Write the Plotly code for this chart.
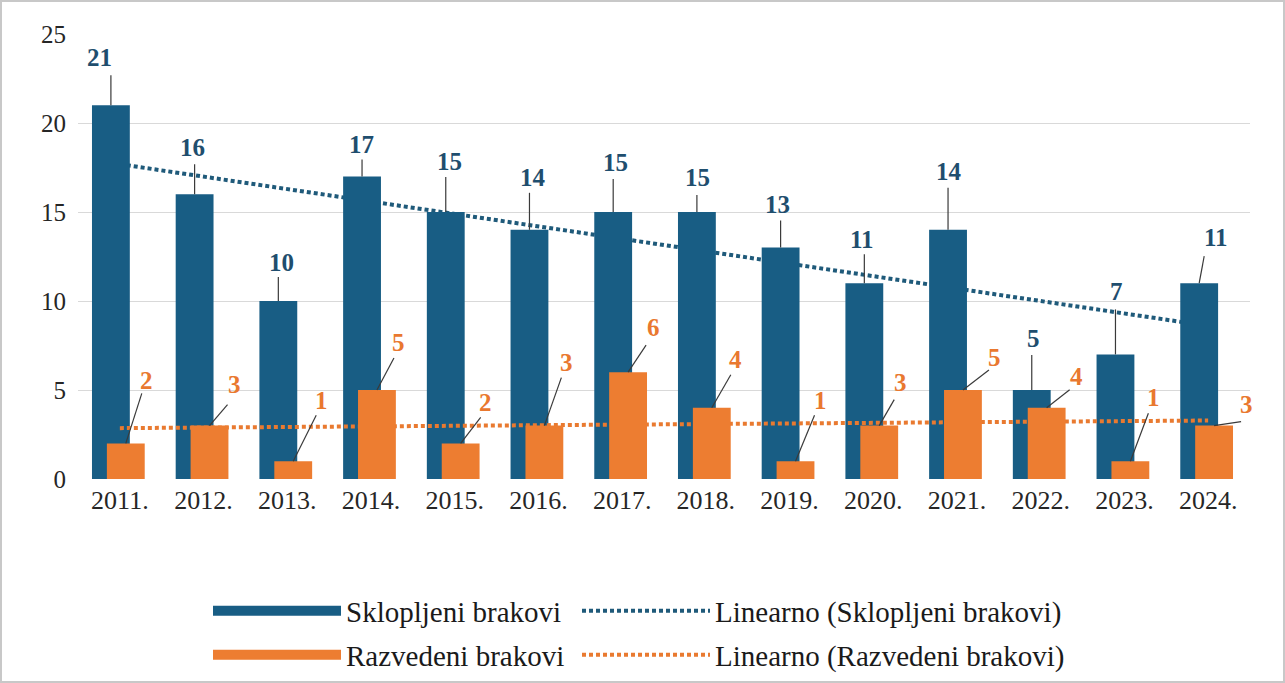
import numpy as np
import plotly.graph_objects as go

# ---------------- data ----------------
years = ['2011.', '2012.', '2013.', '2014.', '2015.', '2016.', '2017.',
         '2018.', '2019.', '2020.', '2021.', '2022.', '2023.', '2024.']
sklopljeni = [21, 16, 10, 17, 15, 14, 15, 15, 13, 11, 14, 5, 7, 11]
razvedeni = [2, 3, 1, 5, 2, 3, 6, 4, 1, 3, 5, 4, 1, 3]
y_ticks = [0, 5, 10, 15, 20, 25]

# ---------------- styling / label placement (pixels) ----------------
BLUE = '#185D84'
ORANGE = '#ED7D31'
BLUE_TREND = '#1F5A7A'
ORANGE_TREND = '#E97A30'
BLUE_TXT = '#1F4E6E'
ORANGE_TXT = '#E9782F'
LEADER = '#3A3A3A'
GRID = '#D9D9D9'
FONT = 'Liberation Serif'

# text centre offset (dx, dy) from bar top, leader end offset (dx, dy); dy positive = down
blue_text_off = [(-11, -48), (-2, -47), (3, -39), (-1, -32), (4, -51), (4, -52), (2, -50),
                 (1, -35), (-3, -43), (-2, -44), (1, -58), (2, -52), (1, -63), (17, -46)]
blue_line_end = [(0, -30), (0, -30), (0, -24), (0, -17), (0, -35), (0, -37), (0, -33),
                 (0, -17), (0, -27), (0, -29), (0, -42), (0, -35), (0, -45), (5, -27)]
orange_text_off = [(21, -63), (25, -41), (28, -61), (22, -48), (25, -41), (22, -63), (25, -45),
                   (24, -48), (25, -61), (21, -43), (32, -33), (30, -31), (23, -64), (32, -21)]
orange_line_end = [(16, -50), (18, -21), (23, -46), (17, -32), (20, -26), (17, -48), (18, -27),
                   (19, -33), (19, -46), (15, -26), (26, -20), (23, -18), (18, -48), (27, -4)]

BAR_W = 0.452
BLUE_OFF = -0.107
ORANGE_OFF = 0.071

idx = np.arange(len(years))
xb = idx + BLUE_OFF
xo = idx + ORANGE_OFF

# linear trends
cb = np.polyfit(idx, sklopljeni, 1)
co = np.polyfit(idx, razvedeni, 1)
tx = np.array([idx[0], idx[-1]])
tb = np.polyval(cb, tx)
to = np.polyval(co, tx)

fig = go.Figure()

# base layer: blue trend (behind blue bars)
fig.add_trace(go.Scatter(x=tx, y=tb, mode='lines', xaxis='x', yaxis='y',
                         line=dict(color=BLUE_TREND, width=4, dash='4px,3px'),
                         showlegend=False, hoverinfo='skip'))
# layer 2: blue bars + orange trend
fig.add_trace(go.Bar(x=xb, y=sklopljeni, width=BAR_W, marker=dict(color=BLUE, line=dict(width=0)),
                     xaxis='x2', yaxis='y2', showlegend=False))
fig.add_trace(go.Scatter(x=tx, y=to, mode='lines', xaxis='x2', yaxis='y2',
                         line=dict(color=ORANGE_TREND, width=4, dash='4px,3px'),
                         showlegend=False, hoverinfo='skip'))
# layer 3: orange bars
fig.add_trace(go.Bar(x=xo, y=razvedeni, width=BAR_W, marker=dict(color=ORANGE, line=dict(width=0)),
                     xaxis='x3', yaxis='y3', showlegend=False))

# legend proxies (one legend box per entry for exact 2x2 placement)
fig.add_trace(go.Scatter(x=[None], y=[None], mode='lines', name='Sklopljeni brakovi',
                         line=dict(color=BLUE, width=15), legend='legend'))
fig.add_trace(go.Scatter(x=[None], y=[None], mode='lines', name='Linearno (Sklopljeni brakovi)',
                         line=dict(color=BLUE_TREND, width=4, dash='4px,3px'), legend='legend2'))
fig.add_trace(go.Scatter(x=[None], y=[None], mode='lines', name='Razvedeni brakovi',
                         line=dict(color=ORANGE, width=15), legend='legend3'))
fig.add_trace(go.Scatter(x=[None], y=[None], mode='lines', name='Linearno (Razvedeni brakovi)',
                         line=dict(color=ORANGE_TREND, width=4, dash='4px,3px'), legend='legend4'))

shapes = []
annotations = []
for i in range(len(years)):
    for xv, v, toff, loff, col in ((xb[i], sklopljeni[i], blue_text_off[i], blue_line_end[i], BLUE_TXT),
                                   (xo[i], razvedeni[i], orange_text_off[i], orange_line_end[i], ORANGE_TXT)):
        shapes.append(dict(type='line', xref='x', yref='y', xsizemode='pixel', ysizemode='pixel',
                           xanchor=float(xv), yanchor=v, x0=0, y0=0, x1=loff[0], y1=-loff[1],
                           line=dict(color=LEADER, width=1.2), layer='above'))
        annotations.append(dict(x=float(xv), y=v, xref='x', yref='y', text='<b>%d</b>' % v,
                                showarrow=False, xshift=toff[0], yshift=-toff[1],
                                xanchor='center', yanchor='middle',
                                font=dict(family=FONT, size=25, color=col)))

# outer border
PL, PR, PT, PB = 78, 1250, 34, 479
pw, ph = PR - PL, PB - PT
shapes.append(dict(type='rect', xref='paper', yref='paper',
                   x0=(1 - PL) / pw, x1=(1284 - PL) / pw,
                   y0=(PB - 682) / ph, y1=(PB - 1) / ph,
                   line=dict(color='#C8C8C8', width=2), layer='below'))

xr = [-0.5, len(years) - 0.5]
yr = [0, 25]
common_hidden_x = dict(range=xr, visible=False, overlaying='x', fixedrange=True)
common_hidden_y = dict(range=yr, visible=False, overlaying='y', fixedrange=True)

legend_common = dict(orientation='h', xref='container', yref='container',
                     xanchor='left', yanchor='middle', itemwidth=128,
                     font=dict(family=FONT, size=29, color='#1a1a1a'),
                     bgcolor='rgba(0,0,0,0)', itemclick=False, itemdoubleclick=False)
COL1, COL2 = 208, 577
ROW1, ROW2 = 611, 655

fig.update_layout(
    width=1285, height=683,
    margin=dict(l=PL, r=1285 - PR, t=PT, b=683 - PB),
    paper_bgcolor='white', plot_bgcolor='white',
    barmode='overlay',
    font=dict(family=FONT, size=20, color='#262626'),
    xaxis=dict(range=xr, tickmode='array', tickvals=list(idx), ticktext=years,
               showgrid=False, zeroline=False, showline=False, ticks='', ticklabelstandoff=3,
               tickfont=dict(family=FONT, size=26, color='#262626'), fixedrange=True),
    yaxis=dict(range=yr, tickmode='array', tickvals=y_ticks, showgrid=True, gridcolor=GRID,
               gridwidth=1.3, zeroline=False, showline=False, ticks='', ticklabelstandoff=11,
               tickfont=dict(family=FONT, size=25, color='#262626'), fixedrange=True),
    xaxis2=common_hidden_x, yaxis2=common_hidden_y,
    xaxis3=common_hidden_x, yaxis3=common_hidden_y,
    legend=dict(legend_common, x=COL1 / 1285, y=1 - ROW1 / 683),
    legend2=dict(legend_common, x=COL2 / 1285, y=1 - ROW1 / 683),
    legend3=dict(legend_common, x=COL1 / 1285, y=1 - ROW2 / 683),
    legend4=dict(legend_common, x=COL2 / 1285, y=1 - ROW2 / 683),
    shapes=shapes, annotations=annotations,
    showlegend=True,
)

fig.write_html('out.html')
